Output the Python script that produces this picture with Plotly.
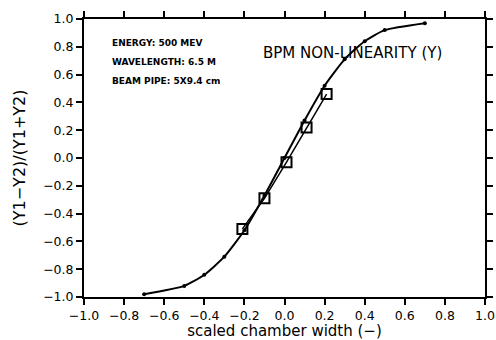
import plotly.graph_objects as go

curve_x = [-0.7, -0.5, -0.4, -0.3, -0.2, -0.1, 0.0, 0.1, 0.2, 0.3, 0.4, 0.5, 0.7]
curve_y = [-0.98, -0.92, -0.84, -0.71, -0.52, -0.27, 0.0, 0.27, 0.52, 0.71, 0.84, 0.92, 0.97]

meas_x = [-0.21, -0.10, 0.01, 0.11, 0.21]
meas_y = [-0.51, -0.29, -0.03, 0.22, 0.46]

tick_vals = [-1.0, -0.8, -0.6, -0.4, -0.2, 0.0, 0.2, 0.4, 0.6, 0.8, 1.0]

info_lines = ["ENERGY: 500 MEV", "WAVELENGTH: 6.5 M", "BEAM PIPE: 5X9.4 cm"]
info_y = [0.83, 0.69, 0.555]
title_text = "BPM NON-LINEARITY (Y)"

fig = go.Figure()
fig.add_trace(go.Scatter(x=curve_x, y=curve_y, mode="lines+markers",
                         line=dict(color="black", width=2, shape="spline", smoothing=0.6),
                         marker=dict(color="black", size=4), showlegend=False))
fig.add_trace(go.Scatter(x=meas_x, y=meas_y, mode="lines+markers",
                         line=dict(color="black", width=1.5),
                         marker=dict(symbol="square-open", color="black", size=10,
                                     line=dict(width=2, color="black")),
                         showlegend=False))

font = dict(family="DejaVu Sans, Liberation Sans, sans-serif", color="black")
for t, yy in zip(info_lines, info_y):
    fig.add_annotation(x=-0.87, y=yy, xref="x", yref="y", text="<b>" + t + "</b>",
                       showarrow=False, xanchor="left", yanchor="middle",
                       font=dict(size=9, **font))
fig.add_annotation(x=0.337, y=0.755, xref="x", yref="y", text=title_text,
                   showarrow=False, xanchor="center", yanchor="middle",
                   font=dict(size=15, **font))

axis_common = dict(range=[-1.0, 1.0], tickvals=tick_vals, tickformat=".1f",
                   showgrid=False, zeroline=False, showline=True, linecolor="black",
                   linewidth=2, mirror="allticks", ticks="outside", ticklen=6,
                   tickwidth=1.5, tickcolor="black", tickfont=dict(size=12.5, **font),
                   automargin=False)

fig.update_xaxes(**axis_common, title=dict(text="scaled chamber width (−)", font=dict(size=15, **font), standoff=0))
fig.update_yaxes(**axis_common, title=dict(text="(Y1−Y2)/(Y1+Y2)", font=dict(size=16, **font), standoff=14))

fig.update_layout(width=496, height=340, margin=dict(l=84, r=11, t=19, b=43),
                  plot_bgcolor="white", paper_bgcolor="white")
fig.write_html("out.html", config={"displayModeBar": False},
               post_script="document.body.style.margin='0';document.body.style.overflow='hidden';")
